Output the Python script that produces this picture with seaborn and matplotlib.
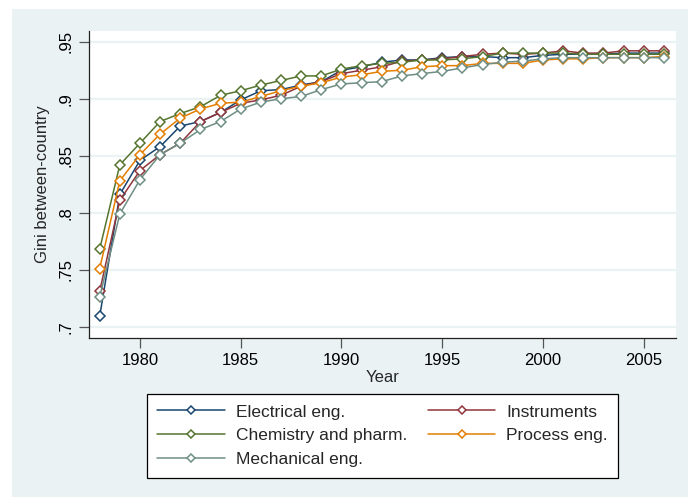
import numpy as np
import pandas as pd
import matplotlib
matplotlib.use("Agg")
import matplotlib.pyplot as plt
import seaborn as sns
from matplotlib.lines import Line2D
from matplotlib.patches import Rectangle

# 数据
years = list(range(1978, 2007))

electrical = [.709, .816, .846, .858, .876, .880, .888, .899, .907, .908,
              .912, .915, .925, .928, .932, .934, .934, .936, .937, .937,
              .936, .936, .938, .939, .939, .939, .940, .940, .940]
instruments = [.731, .811, .837, .851, .861, .880, .888, .896, .899, .903,
               .911, .915, .922, .925, .928, .933, .934, .935, .937, .939,
               .940, .939, .940, .942, .940, .940, .942, .942, .942]
chemistry = [.768, .842, .861, .880, .887, .893, .903, .907, .912, .916,
             .920, .920, .926, .929, .931, .932, .934, .934, .935, .937,
             .940, .940, .940, .940, .939, .939, .939, .939, .939]
process = [.751, .828, .851, .869, .883, .891, .896, .897, .902, .907,
           .911, .914, .919, .921, .924, .925, .928, .929, .929, .931,
           .931, .931, .934, .935, .935, .936, .936, .936, .937]
mechanical = [.726, .799, .829, .851, .861, .873, .880, .891, .897, .900,
              .902, .908, .913, .914, .915, .920, .922, .924, .927, .930,
              .932, .933, .935, .936, .936, .936, .936, .936, .936]

series_names = ["Electrical eng.", "Instruments", "Chemistry and pharm.",
                "Process eng.", "Mechanical eng."]
series_values = [electrical, instruments, chemistry, process, mechanical]
series_colors = ["#1a476f", "#90353b", "#55752f", "#e37e00", "#6e8e84"]

y_ticks = [0.7, 0.75, 0.8, 0.85, 0.9, 0.95]
y_tick_labels = [".7", ".75", ".8", ".85", ".9", ".95"]
x_ticks = [1980, 1985, 1990, 1995, 2000, 2005]

# 长表
df = pd.DataFrame({
    "Year": years * len(series_names),
    "Gini": sum(series_values, []),
    "Field": [n for n in series_names for _ in years],
})

sns.set_theme(style="white")
plt.rcParams["font.family"] = ["Liberation Sans", "DejaVu Sans"]

BG = "#eaf2f3"
fig = plt.figure(figsize=(6.88, 4.97), dpi=100)
fig.patch.set_facecolor("white")
fig.patches.append(Rectangle((12 / 688, 0), 1 - 12 / 688, 1 - 9 / 497,
                             transform=fig.transFigure, facecolor=BG,
                             edgecolor="none", zorder=-10))

ax = fig.add_axes([89 / 688, 1 - 338 / 497, (676 - 89) / 688, (338 - 31) / 497])
ax.set_facecolor("white")

palette = dict(zip(series_names, series_colors))
sns.lineplot(data=df, x="Year", y="Gini", hue="Field", hue_order=series_names,
             palette=palette, marker="D", markersize=5.5, markerfacecolor="white",
             markeredgewidth=1.1, linewidth=1.1, legend=False, ax=ax)
# 让marker边框颜色与线一致
for line, c in zip(ax.get_lines(), series_colors):
    line.set_markeredgecolor(c)

ax.set_xlim(1977.47, 2006.6)
ax.set_ylim(0.6901, 0.9594)
ax.set_xticks(x_ticks)
ax.set_yticks(y_ticks)
ax.set_yticklabels(y_tick_labels, rotation=90, va="center")
ax.tick_params(axis="both", which="major", length=7, width=0.9, color="#555555",
               labelsize=12, labelcolor="black", direction="out", pad=4, left=True, bottom=True)
ax.yaxis.grid(True, color=BG, linewidth=1.6)
ax.xaxis.grid(False)
ax.set_axisbelow(True)
for s in ["top", "right"]:
    ax.spines[s].set_visible(False)
for s in ["left", "bottom"]:
    ax.spines[s].set_color("#222222")
    ax.spines[s].set_linewidth(0.9)

ax.set_xlabel("Year", fontsize=12, labelpad=1)
ax.set_ylabel("Gini between-country", fontsize=12, labelpad=6)

# 图例按行排列（Stata风格）
handles = [Line2D([0], [0], color=c, lw=1.1, marker="D", markersize=4.5,
                  markerfacecolor="white", markeredgecolor=c, markeredgewidth=1.1)
           for c in series_colors]
order = [0, 2, 4, 1, 3]
leg = fig.legend([handles[i] for i in order], [series_names[i] for i in order],
                 ncol=2, loc="upper center",
                 bbox_to_anchor=(382.5 / 688, 1 - 394 / 497),
                 fontsize=12.5, frameon=True, fancybox=False, framealpha=1,
                 edgecolor="black", handlelength=3.9, handletextpad=0.6,
                 columnspacing=1.2, labelspacing=0.5, borderpad=0.6,
                 borderaxespad=0)
leg.get_frame().set_linewidth(0.9)

fig.savefig("out.png", dpi=100, facecolor=fig.get_facecolor())
